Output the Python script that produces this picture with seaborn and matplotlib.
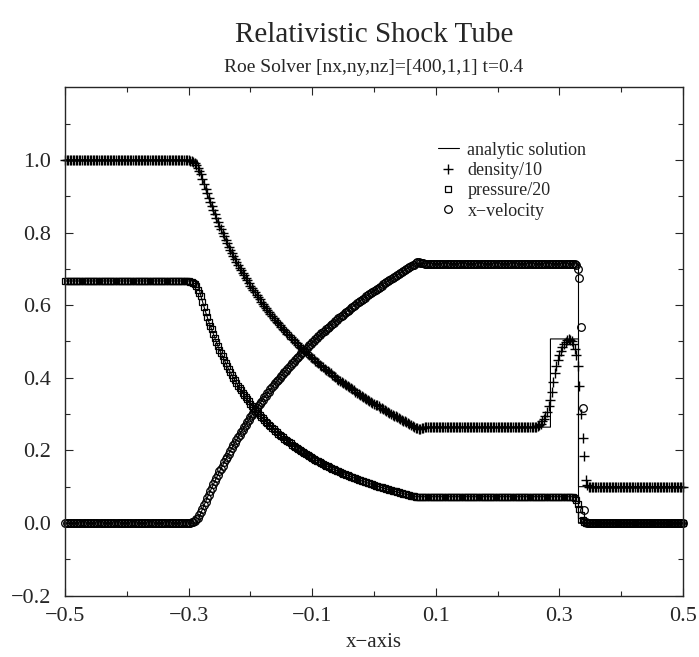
import numpy as np
import matplotlib
matplotlib.use("Agg")
import matplotlib.pyplot as plt
import seaborn as sns

# --------------------------------------
# Analytic solution (read at the wave edges)
# --------------------------------------
x_exact = [-0.5, -0.28645, -0.28015, -0.27405, -0.26780, -0.25156, -0.23450,
           -0.21671, -0.19827, -0.17935, -0.15995, -0.14018, -0.12032, -0.10026,
           -0.08014, -0.06018, -0.04043, -0.02082, -0.00179, 0.01687, 0.03547,
           0.05329, 0.0664, 0.2856, 0.2856, 0.331, 0.331, 0.5]
density_exact = [1.0, 1.0, 0.9626, 0.9291, 0.8972, 0.8241, 0.7590, 0.7009, 0.6489,
                 0.6020, 0.5596, 0.5213, 0.4864, 0.4545, 0.4253, 0.3986, 0.3740,
                 0.3514, 0.3305, 0.3112, 0.2932, 0.2766, 0.2640, 0.2640, 0.5070,
                 0.5070, 0.1, 0.1]
pressure_exact = [0.6667, 0.6667, 0.6257, 0.5898, 0.5565, 0.4829, 0.4210, 0.3687,
                  0.3242, 0.2861, 0.2534, 0.2251, 0.2005, 0.1791, 0.1604, 0.1439,
                  0.1294, 0.1167, 0.1053, 0.0953, 0.0863, 0.0783, 0.0724, 0.0724,
                  0.0724, 0.0724, 0.0, 0.0]
velocity_exact = [0.0, 0.0, 0.0273, 0.0525, 0.0772, 0.1367, 0.1929, 0.2458, 0.2953,
                  0.3415, 0.3848, 0.4251, 0.4624, 0.4972, 0.5297, 0.5597, 0.5875,
                  0.6136, 0.6374, 0.6595, 0.6807, 0.6999, 0.7141, 0.7141, 0.7141,
                  0.7141, 0.0, 0.0]

# --------------------------------------
# Roe solver output, 401 points from -0.5 to 0.5
# rarefaction part: x = -0.31 ... 0.08, shell part: x = 0.26 ... 0.3475
# --------------------------------------
density_fan = [
    1.000, 1.000, 1.000, 1.000, 0.999, 0.998, 0.997, 0.995, 0.992, 0.986,
    0.979, 0.969, 0.960, 0.947, 0.934, 0.921, 0.908, 0.896, 0.885, 0.873,
    0.862, 0.851, 0.840, 0.828, 0.818, 0.809, 0.799, 0.790, 0.780, 0.770,
    0.761, 0.752, 0.744, 0.736, 0.728, 0.720, 0.712, 0.703, 0.696, 0.689,
    0.682, 0.675, 0.668, 0.661, 0.654, 0.647, 0.641, 0.635, 0.628, 0.622,
    0.616, 0.610, 0.604, 0.598, 0.593, 0.587, 0.582, 0.576, 0.571, 0.565,
    0.560, 0.555, 0.550, 0.545, 0.540, 0.535, 0.531, 0.526, 0.521, 0.517,
    0.512, 0.508, 0.503, 0.499, 0.495, 0.490, 0.486, 0.482, 0.478, 0.474,
    0.470, 0.466, 0.462, 0.458, 0.454, 0.451, 0.447, 0.443, 0.440, 0.436,
    0.432, 0.429, 0.425, 0.422, 0.418, 0.415, 0.412, 0.408, 0.405, 0.402,
    0.398, 0.395, 0.392, 0.389, 0.386, 0.383, 0.380, 0.376, 0.374, 0.371,
    0.368, 0.365, 0.362, 0.359, 0.356, 0.353, 0.351, 0.348, 0.345, 0.342,
    0.340, 0.337, 0.334, 0.331, 0.329, 0.326, 0.324, 0.321, 0.318, 0.316,
    0.313, 0.311, 0.308, 0.306, 0.303, 0.301, 0.298, 0.296, 0.294, 0.291,
    0.289, 0.287, 0.284, 0.282, 0.280, 0.277, 0.275, 0.273, 0.270, 0.268,
    0.265, 0.263, 0.261, 0.259, 0.260, 0.262, 0.263,
]
pressure_fan = [
    0.667, 0.667, 0.667, 0.666, 0.666, 0.665, 0.664, 0.662, 0.658, 0.652,
    0.643, 0.633, 0.624, 0.610, 0.595, 0.582, 0.568, 0.555, 0.544, 0.533,
    0.521, 0.510, 0.499, 0.487, 0.477, 0.468, 0.459, 0.450, 0.441, 0.432,
    0.423, 0.415, 0.408, 0.400, 0.393, 0.386, 0.378, 0.371, 0.365, 0.359,
    0.353, 0.347, 0.341, 0.335, 0.328, 0.323, 0.318, 0.313, 0.308, 0.303,
    0.298, 0.293, 0.288, 0.283, 0.279, 0.275, 0.270, 0.266, 0.262, 0.258,
    0.253, 0.250, 0.246, 0.243, 0.239, 0.236, 0.232, 0.228, 0.225, 0.222,
    0.219, 0.216, 0.213, 0.209, 0.206, 0.203, 0.200, 0.198, 0.195, 0.192,
    0.190, 0.187, 0.184, 0.181, 0.179, 0.177, 0.174, 0.172, 0.170, 0.167,
    0.165, 0.163, 0.160, 0.158, 0.156, 0.154, 0.152, 0.150, 0.148, 0.146,
    0.144, 0.142, 0.140, 0.138, 0.136, 0.135, 0.133, 0.131, 0.129, 0.128,
    0.126, 0.124, 0.123, 0.121, 0.119, 0.118, 0.116, 0.115, 0.113, 0.112,
    0.110, 0.109, 0.107, 0.106, 0.104, 0.103, 0.102, 0.100, 0.099, 0.098,
    0.096, 0.095, 0.094, 0.093, 0.091, 0.090, 0.089, 0.088, 0.087, 0.085,
    0.084, 0.083, 0.082, 0.081, 0.080, 0.079, 0.078, 0.076, 0.075, 0.074,
    0.073, 0.0725, 0.072, 0.0722, 0.0724, 0.0724, 0.0724,
]
velocity_fan = [
    0.000, 0.000, 0.000, 0.000, 0.001, 0.001, 0.002, 0.003, 0.006, 0.010,
    0.015, 0.023, 0.030, 0.039, 0.049, 0.059, 0.068, 0.078, 0.087, 0.097,
    0.106, 0.115, 0.124, 0.133, 0.142, 0.150, 0.158, 0.167, 0.175, 0.183,
    0.191, 0.199, 0.206, 0.214, 0.221, 0.229, 0.236, 0.243, 0.250, 0.257,
    0.264, 0.271, 0.277, 0.284, 0.291, 0.297, 0.303, 0.309, 0.316, 0.322,
    0.328, 0.334, 0.340, 0.346, 0.351, 0.357, 0.362, 0.368, 0.374, 0.379,
    0.385, 0.390, 0.395, 0.400, 0.405, 0.410, 0.415, 0.420, 0.425, 0.430,
    0.435, 0.440, 0.444, 0.449, 0.454, 0.458, 0.463, 0.467, 0.472, 0.476,
    0.480, 0.485, 0.489, 0.493, 0.498, 0.502, 0.506, 0.510, 0.514, 0.518,
    0.522, 0.526, 0.530, 0.534, 0.537, 0.541, 0.545, 0.549, 0.552, 0.556,
    0.560, 0.564, 0.567, 0.571, 0.574, 0.578, 0.581, 0.585, 0.588, 0.591,
    0.595, 0.598, 0.601, 0.605, 0.608, 0.611, 0.615, 0.618, 0.621, 0.624,
    0.627, 0.630, 0.633, 0.637, 0.640, 0.642, 0.645, 0.648, 0.651, 0.654,
    0.657, 0.660, 0.663, 0.666, 0.669, 0.672, 0.674, 0.677, 0.680, 0.683,
    0.686, 0.688, 0.691, 0.694, 0.696, 0.699, 0.702, 0.705, 0.707, 0.710,
    0.712, 0.716, 0.718, 0.718, 0.717, 0.716, 0.715,
]

density_shell = [
    0.264, 0.265, 0.267, 0.270, 0.274, 0.280, 0.287, 0.296, 0.307, 0.322,
    0.340, 0.362, 0.388, 0.412, 0.433, 0.450, 0.463, 0.474, 0.484, 0.492,
    0.499, 0.504, 0.506, 0.505, 0.500, 0.492, 0.480, 0.462, 0.432, 0.378,
    0.300, 0.235, 0.185, 0.118, 0.104, 0.100,
]
pressure_shell = [0.0724] * 25 + [0.071, 0.068, 0.063, 0.053, 0.038,
                                  0.021, 0.008, 0.002, 0.0, 0.0, 0.0]
velocity_shell = [0.714] * 26 + [0.713, 0.711, 0.700, 0.675,
                                 0.540, 0.316, 0.035, 0.002, 0.0, 0.0]

# left state (76 pts), plateau (71 pts), right state (61 pts)
density_num = [1.0] * 76 + density_fan + [0.264] * 71 + density_shell + [0.1] * 61
pressure_num = [0.6667] * 76 + pressure_fan + [0.0724] * 71 + pressure_shell + [0.0] * 61
velocity_num = [0.0] * 76 + velocity_fan + [0.714] * 71 + velocity_shell + [0.0] * 61
x_num = np.linspace(-0.5, 0.5, len(density_num))

x_ticks = [-0.5, -0.3, -0.1, 0.1, 0.3, 0.5]
x_tick_labels = ["\u22120.5", "\u22120.3", "\u22120.1", "0.1", "0.3", "0.5"]
y_ticks = [-0.2, 0.0, 0.2, 0.4, 0.6, 0.8, 1.0]
y_tick_labels = ["\u22120.2", "0.0", "0.2", "0.4", "0.6", "0.8", "1.0"]

# --------------------------------------
# Plot
# --------------------------------------
sns.set_style("ticks")
plt.rcParams["font.family"] = ["Liberation Serif", "DejaVu Serif"]

fig = plt.figure(figsize=(6.99, 6.57), dpi=100)
ax = fig.add_axes([0.093, 0.0935, 0.884, 0.7735])

line_kw = dict(color="black", lw=0.8, sort=False, estimator=None, ax=ax)
sns.lineplot(x=x_exact, y=density_exact, label="analytic solution", **line_kw)
sns.lineplot(x=x_exact, y=pressure_exact, **line_kw)
sns.lineplot(x=x_exact, y=velocity_exact, **line_kw)

mark_kw = dict(linestyle="", color="black", mec="black", estimator=None,
               clip_on=False, ax=ax)
sns.lineplot(x=x_num, y=density_num, marker="+", ms=6.5, mew=1.0,
             label="density/10", **mark_kw)
sns.lineplot(x=x_num, y=pressure_num, marker="s", ms=4.5, mew=0.9,
             mfc="none", label="pressure/20", **mark_kw)
sns.lineplot(x=x_num, y=velocity_num, marker="o", ms=5.5, mew=0.9,
             mfc="none", label="x\u2212velocity", **mark_kw)

ax.set_xlim(-0.5, 0.5)
ax.set_ylim(-0.2, 1.2)
ax.set_xticks(x_ticks)
ax.set_xticklabels(x_tick_labels)
ax.set_xticks([-0.4, -0.2, 0.0, 0.2, 0.4], minor=True)
ax.set_yticks(y_ticks)
ax.set_yticklabels(y_tick_labels)
ax.set_yticks([-0.1, 0.1, 0.3, 0.5, 0.7, 0.9, 1.1], minor=True)
ax.tick_params(which="both", direction="in", top=True, right=True, labelsize=16)
ax.tick_params(which="major", length=6, width=0.8)
ax.tick_params(which="minor", length=3.5, width=0.8)
ax.tick_params(axis="y", pad=10)
ax.tick_params(axis="x", pad=8)
for s in ax.spines.values():
    s.set_linewidth(1.0)

ax.set_xlabel("x\u2212axis", fontsize=15, labelpad=5)
ax.set_ylabel("")

ax.legend(loc="upper left", bbox_to_anchor=(0.603, 0.893), frameon=False,
          fontsize=13, handlelength=1.2, handletextpad=0.45,
          labelspacing=0.18, borderpad=0, borderaxespad=0)

fig.text(0.535, 0.947, "Relativistic Shock Tube", ha="center", va="center", fontsize=21)
fig.text(0.535, 0.898, "Roe Solver [nx,ny,nz]=[400,1,1] t=0.4",
         ha="center", va="center", fontsize=14)

fig.savefig("out.png", dpi=100)
